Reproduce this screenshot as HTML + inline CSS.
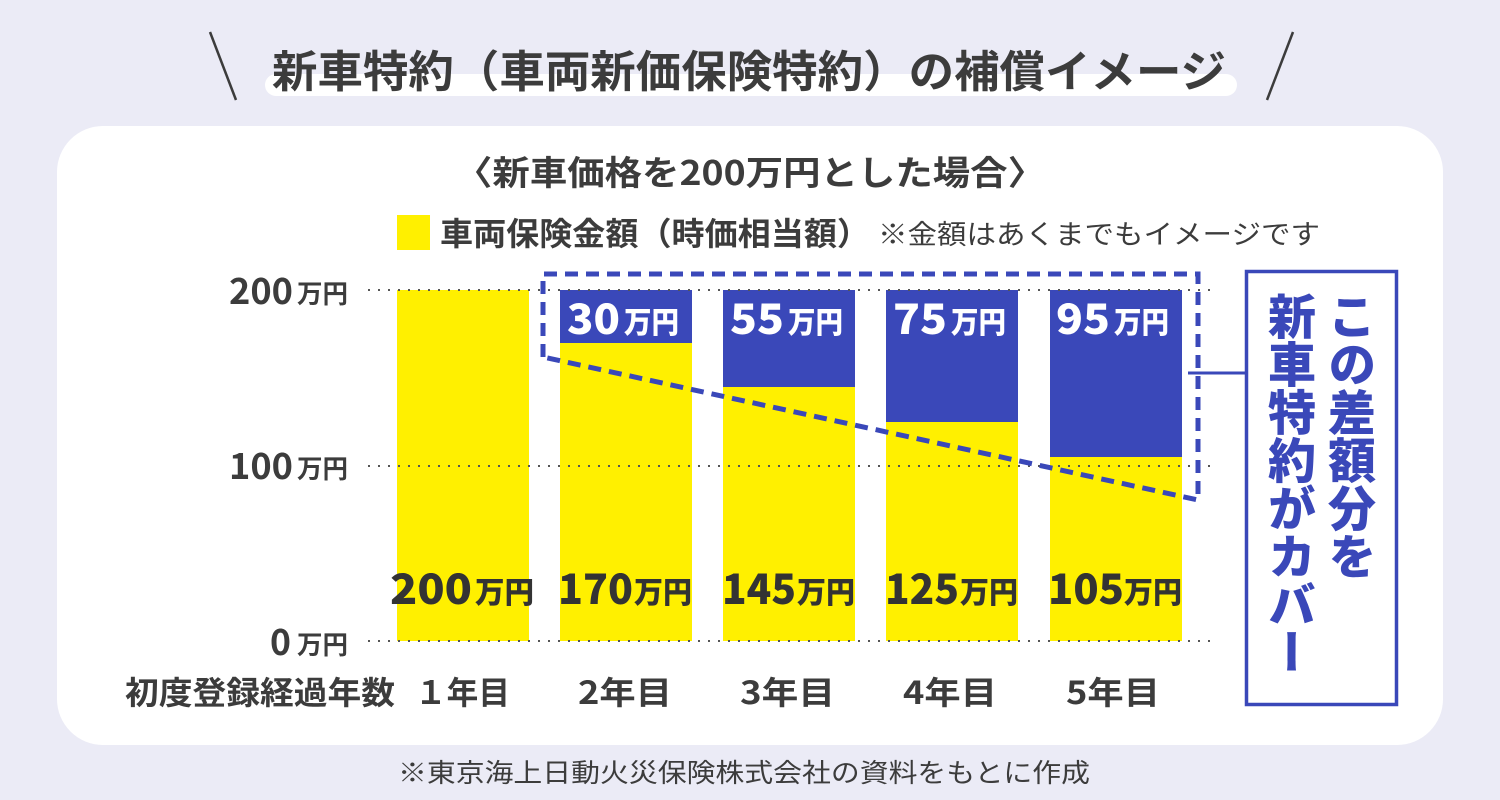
<!DOCTYPE html>
<html><head><meta charset="utf-8"><style>
html,body{margin:0;padding:0;}
body{width:1500px;height:800px;background:#ebebf6;position:relative;overflow:hidden;font-family:"Liberation Sans","Noto Sans CJK JP",sans-serif;}
svg{position:absolute;left:0;top:0;}
.vt{position:absolute;left:1262px;top:292px;width:120px;height:410px;writing-mode:vertical-rl;font-family:"Noto Sans CJK JP",sans-serif;font-weight:900;font-size:48px;line-height:60px;color:#3a48b9;letter-spacing:0px;}
</style></head><body>
<svg width="1500" height="800" viewBox="0 0 1500 800" xmlns="http://www.w3.org/2000/svg" font-family="'Noto Sans CJK JP', sans-serif">
  <!-- title -->
  <line x1="210" y1="32" x2="236" y2="100" stroke="#3c3c3c" stroke-width="2.5"/>
  <line x1="1293" y1="32" x2="1267" y2="100" stroke="#3c3c3c" stroke-width="2.5"/>
  <rect x="265" y="74" width="972" height="22" rx="11" fill="#ffffff"/>
  <text x="272" y="87" font-size="44" font-weight="700" fill="#3c3c3c" textLength="954" lengthAdjust="spacingAndGlyphs">新車特約（車両新価保険特約）の補償イメージ</text>

  <!-- panel -->
  <rect x="57" y="126" width="1386" height="619" rx="46" fill="#ffffff"/>

  <text x="455" y="185" font-size="34" font-weight="700" fill="#3c3c3c" textLength="590" lengthAdjust="spacingAndGlyphs">〈新車価格を200万円とした場合〉</text>

  <rect x="397" y="215" width="33" height="35" fill="#fff000"/>
  <text x="440" y="245" font-size="32" font-weight="700" fill="#3c3c3c" textLength="430" lengthAdjust="spacingAndGlyphs">車両保険金額（時価相当額）</text>
  <text x="878" y="244" font-size="27" font-weight="400" fill="#3c3c3c" textLength="442" lengthAdjust="spacingAndGlyphs">※金額はあくまでもイメージです</text>

  <!-- bars -->
  <g>
    <rect x="397" y="290" width="132" height="351" fill="#fff000"/>
    <rect x="560" y="290" width="132" height="351" fill="#fff000"/>
    <rect x="723" y="290" width="132" height="351" fill="#fff000"/>
    <rect x="886" y="290" width="132" height="351" fill="#fff000"/>
    <rect x="1050" y="290" width="132" height="351" fill="#fff000"/>
    <rect x="560" y="290" width="132" height="53" fill="#3a48b9"/>
    <rect x="723" y="290" width="132" height="97" fill="#3a48b9"/>
    <rect x="886" y="290" width="132" height="132" fill="#3a48b9"/>
    <rect x="1050" y="290" width="132" height="167" fill="#3a48b9"/>
  </g>

  <!-- gridlines -->
  <g stroke="#555" stroke-width="2" stroke-dasharray="2 8">
    <line x1="368" y1="290" x2="1212" y2="290"/>
    <line x1="368" y1="466" x2="1212" y2="466"/>
    <line x1="368" y1="641" x2="1212" y2="641"/>
  </g>

  <!-- y labels -->
  <g fill="#3c3c3c" font-weight="700">
    <text x="229" y="304" font-size="36" textLength="64" lengthAdjust="spacingAndGlyphs">200</text>
    <text x="297" y="303" font-size="26" textLength="51" lengthAdjust="spacingAndGlyphs">万円</text>
    <text x="229" y="479" font-size="36" textLength="64" lengthAdjust="spacingAndGlyphs">100</text>
    <text x="297" y="478" font-size="26" textLength="51" lengthAdjust="spacingAndGlyphs">万円</text>
    <text x="270" y="655" font-size="36" textLength="21" lengthAdjust="spacingAndGlyphs">0</text>
    <text x="297" y="654" font-size="26" textLength="51" lengthAdjust="spacingAndGlyphs">万円</text>
  </g>

  <!-- bar value labels -->
  <g fill="#333" font-weight="900">
    <text x="390" y="604" font-size="42" textLength="82" lengthAdjust="spacingAndGlyphs">200</text>
    <text x="475" y="603" font-size="30" textLength="59" lengthAdjust="spacingAndGlyphs">万円</text>
    <text x="558" y="604" font-size="42" textLength="75" lengthAdjust="spacingAndGlyphs">170</text>
    <text x="634" y="603" font-size="30" textLength="58" lengthAdjust="spacingAndGlyphs">万円</text>
    <text x="722" y="604" font-size="42" textLength="74" lengthAdjust="spacingAndGlyphs">145</text>
    <text x="797" y="603" font-size="30" textLength="58" lengthAdjust="spacingAndGlyphs">万円</text>
    <text x="885" y="604" font-size="42" textLength="74" lengthAdjust="spacingAndGlyphs">125</text>
    <text x="960" y="603" font-size="30" textLength="58" lengthAdjust="spacingAndGlyphs">万円</text>
    <text x="1048" y="604" font-size="42" textLength="76" lengthAdjust="spacingAndGlyphs">105</text>
    <text x="1124" y="603" font-size="30" textLength="58" lengthAdjust="spacingAndGlyphs">万円</text>
  </g>
  <g fill="#ffffff" font-weight="900">
    <text x="567" y="334" font-size="42" textLength="53" lengthAdjust="spacingAndGlyphs">30</text>
    <text x="624" y="333" font-size="30" textLength="55" lengthAdjust="spacingAndGlyphs">万円</text>
    <text x="730" y="334" font-size="42" textLength="54" lengthAdjust="spacingAndGlyphs">55</text>
    <text x="788" y="333" font-size="30" textLength="55" lengthAdjust="spacingAndGlyphs">万円</text>
    <text x="893" y="334" font-size="42" textLength="54" lengthAdjust="spacingAndGlyphs">75</text>
    <text x="951" y="333" font-size="30" textLength="55" lengthAdjust="spacingAndGlyphs">万円</text>
    <text x="1056" y="334" font-size="42" textLength="54" lengthAdjust="spacingAndGlyphs">95</text>
    <text x="1114" y="333" font-size="30" textLength="55" lengthAdjust="spacingAndGlyphs">万円</text>
  </g>

  <!-- dashed region -->
  <path d="M543,357 L543,274 L1198,274 L1198,500 Z" fill="none" stroke="#3a48b9" stroke-width="5" stroke-dasharray="13 8"/>

  <!-- callout -->
  <line x1="1188" y1="373" x2="1246" y2="373" stroke="#3a48b9" stroke-width="3"/>
  <rect x="1246.5" y="271.5" width="150" height="433" fill="#ffffff" stroke="#3a48b9" stroke-width="3.5"/>

  <!-- x labels -->
  <g fill="#3c3c3c" font-weight="700">
    <text x="125" y="704" font-size="32" textLength="270" lengthAdjust="spacingAndGlyphs">初度登録経過年数</text>
    <text x="415" y="704" font-size="32" textLength="95" lengthAdjust="spacingAndGlyphs">１年目</text>
    <text x="578" y="704" font-size="32" textLength="94" lengthAdjust="spacingAndGlyphs">2年目</text>
    <text x="740" y="704" font-size="32" textLength="95" lengthAdjust="spacingAndGlyphs">3年目</text>
    <text x="903" y="704" font-size="32" textLength="94" lengthAdjust="spacingAndGlyphs">4年目</text>
    <text x="1066" y="704" font-size="32" textLength="94" lengthAdjust="spacingAndGlyphs">5年目</text>
  </g>

  <text x="398" y="782" font-size="26" font-weight="400" fill="#3c3c3c" textLength="692" lengthAdjust="spacingAndGlyphs">※東京海上日動火災保険株式会社の資料をもとに作成</text>
</svg>
<div class="vt">この差額分を<br>新車特約がカバー</div>
</body></html>
